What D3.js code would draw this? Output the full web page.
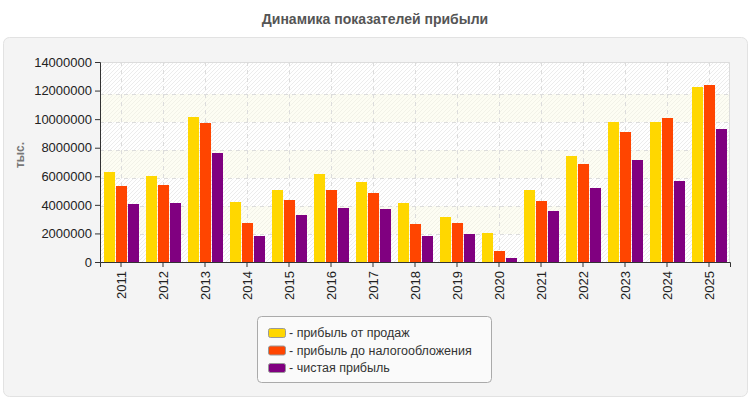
<!DOCTYPE html>
<html><head><meta charset="utf-8">
<script src="https://cdn.jsdelivr.net/npm/d3@7"></script>
<style>body{margin:0;background:#fff}svg{display:block;font-family:"Liberation Sans",Arial,sans-serif}</style>
</head><body><svg id="c" width="750" height="400"></svg>
<script>
const years = ["2011","2012","2013","2014","2015","2016","2017","2018","2019","2020","2021","2022","2023","2024","2025"];
const seriesNames = ["- прибыль от продаж","- прибыль до налогообложения","- чистая прибыль"];
const salesProfit = [6300000,6020000,10150000,4200000,5040000,6160000,5600000,4130000,3150000,2030000,5040000,7420000,9800000,9800000,12250000];
const preTaxProfit = [5320000,5390000,9730000,2730000,4340000,5040000,4830000,2660000,2730000,770000,4270000,6860000,9100000,10080000,12390000];
const netProfit = [4060000,4130000,7630000,1820000,3290000,3780000,3710000,1820000,1960000,280000,3570000,5180000,7140000,5670000,9310000];
const yTicks = [0,2000000,4000000,6000000,8000000,10000000,12000000,14000000];
const colors = ["#FFD700","#FF4500","#800080"];
const series = [salesProfit, preTaxProfit, netProfit];

const svg = d3.select("#c");
const L=100,R=730,T=62,B=262;

svg.append("text").attr("x",375).attr("y",24).attr("text-anchor","middle")
  .attr("font-size",14).attr("font-weight","bold").attr("fill","#555").text("Динамика показателей прибыли");

svg.append("rect").attr("x",3.5).attr("y",37.5).attr("width",744).attr("height",359).attr("rx",6)
  .attr("fill","#f4f4f4").attr("stroke","#e2e2e2");

const defs = svg.append("defs");
const pat = defs.append("pattern").attr("id","hatch").attr("patternUnits","userSpaceOnUse")
  .attr("width",4).attr("height",4);
pat.append("rect").attr("width",4).attr("height",4).attr("fill","#ffffff");
pat.append("path").attr("d","M-1,1 l2,-2 M0,4 l4,-4 M3,5 l2,-2").attr("stroke","#ececec").attr("stroke-width",1);

const x = d3.scaleBand().domain(years).range([L,R]);
const xs = d3.scaleBand().domain(d3.range(3)).range([4,x.bandwidth()-3]).paddingInner(0.08);
const y = d3.scaleLinear().domain([0,14000000]).range([B,T]);
const yg = d3.scaleLinear().domain([0,14000000]).range([B,T+4]);

// plot background
svg.append("rect").attr("x",L).attr("y",T).attr("width",R-L).attr("height",B-T).attr("fill","url(#hatch)");
// alternating bands
const bandIdx = d3.range(yTicks.length-1);
svg.append("g").selectAll("rect").data(bandIdx.filter(i=>i%2===1)).join("rect")
  .attr("x",L).attr("width",R-L)
  .attr("y",i=>Math.max(T,yg(yTicks[i+1])))
  .attr("height",i=>yg(yTicks[i])-Math.max(T,yg(yTicks[i+1])))
  .attr("fill","#fbfbe4").attr("opacity",0.45);

// grid
const grid = svg.append("g").attr("stroke","#dcdcdc").attr("stroke-dasharray","4,4");
grid.selectAll("line.h").data(yTicks.slice(1,-1)).join("line").attr("class","h")
  .attr("x1",L).attr("x2",R).attr("y1",d=>Math.round(yg(d))+0.5).attr("y2",d=>Math.round(yg(d))+0.5);
grid.selectAll("line.v").data(years).join("line").attr("class","v")
  .attr("y1",T).attr("y2",B).attr("x1",d=>Math.round(x(d)+x.bandwidth()/2)+0.5).attr("x2",d=>Math.round(x(d)+x.bandwidth()/2)+0.5);
svg.append("path").attr("d",`M${L},${T+0.5}H${R-0.5}V${B}`).attr("fill","none").attr("stroke","#dcdcdc");

// bars
series.forEach((vals,si)=>{
  svg.append("g").selectAll("rect").data(vals).join("rect")
    .attr("x",(d,i)=>x(years[i])+xs(si)).attr("width",xs.bandwidth())
    .attr("y",d=>y(d)).attr("height",d=>B-y(d)).attr("fill",colors[si]);
});

// axes
const ya = svg.append("g").attr("transform",`translate(${L},0)`)
  .call(d3.axisLeft(y).tickValues(yTicks).tickFormat(d3.format("d")).tickSizeOuter(0).tickSize(5));
ya.selectAll("text").attr("font-size",13).attr("fill","#222").attr("font-family","Liberation Sans, Arial");
ya.selectAll("line,path").attr("stroke","#333");
const xa = svg.append("g").attr("transform",`translate(0,${B})`)
  .call(d3.axisBottom(x).tickSizeOuter(0).tickSize(5));
xa.selectAll("text").attr("font-size",13).attr("fill","#222").attr("font-family","Liberation Sans, Arial")
  .attr("transform","rotate(-90)").attr("text-anchor","end").attr("x",-9).attr("y",0).attr("dy","0.35em");
xa.selectAll("line,path").attr("stroke","#333");

svg.append("text").attr("transform","translate(24,155) rotate(-90)").attr("text-anchor","middle")
  .attr("font-size",12).attr("font-weight","bold").attr("fill","#777").text("тыс.");

// legend
const lg = svg.append("g");
lg.append("rect").attr("x",257.5).attr("y",316.5).attr("width",234).attr("height",66).attr("rx",4)
  .attr("fill","#fafafa").attr("stroke","#aaa");
seriesNames.forEach((n,i)=>{
  const cy = 333 + i*17.5;
  lg.append("rect").attr("x",268.5).attr("y",cy-4.5).attr("width",17).attr("height",9).attr("rx",2)
    .attr("fill",colors[i]).attr("stroke","#999");
  lg.append("text").attr("x",289).attr("y",cy).attr("dy","0.35em").attr("font-size",12.5).attr("fill","#333").text(n);
});
</script></body></html>
